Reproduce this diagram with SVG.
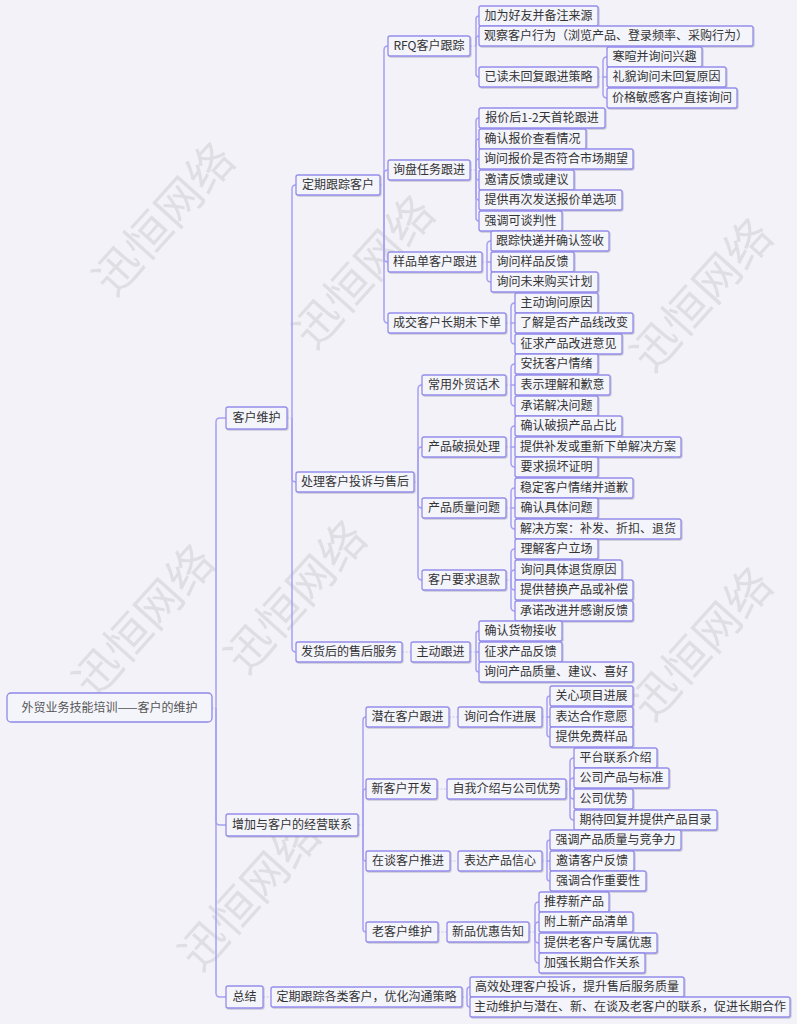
<svg xmlns="http://www.w3.org/2000/svg" width="797" height="1024" viewBox="0 0 797 1024">
<defs>
<filter id="sh" x="-5%" y="-20%" width="110%" height="150%">
<feDropShadow dx="1" dy="1" stdDeviation="0.6" flood-color="#7a7a90" flood-opacity="0.35"/>
</filter>
<style>
.bg{fill:#f2f2f8}
.n rect{fill:#f4f4fb;stroke:#958dec;stroke-width:1.3;filter:url(#sh)}
.n text{font-family:"Noto Sans CJK SC","Liberation Sans",sans-serif;font-size:12px;fill:#333;text-anchor:middle}
.root rect{fill:#f4f4fb;stroke:#8f88e8;stroke-width:1.3}
.root text{font-family:"Noto Sans CJK SC","Liberation Sans",sans-serif;font-size:12px;fill:#555;text-anchor:middle}
.c path{fill:none;stroke:#a7a1f2;stroke-width:1.5}
.c .d{stroke:#c9c6f1;stroke-width:1;stroke-dasharray:2 1.5}
.wm text{font-family:"Noto Sans CJK SC",sans-serif;font-size:46px;fill:#9a9a9a;opacity:0.22;text-anchor:middle}
</style>
</defs>
<rect class="bg" x="0" y="0" width="797" height="1024"/>

<g class="wm">
<text transform="translate(176,230) rotate(-48)">迅恒网络</text>
<text transform="translate(376,283) rotate(-48)">迅恒网络</text>
<text transform="translate(714,306) rotate(-48)">迅恒网络</text>
<text transform="translate(156,632) rotate(-48)">迅恒网络</text>
<text transform="translate(308,608) rotate(-48)">迅恒网络</text>
<text transform="translate(714,655) rotate(-48)">迅恒网络</text>
<text transform="translate(262,905) rotate(-48)">迅恒网络</text>
</g>

<g class="c" id="connectors">
<path class="d" d="M212,708H216"/>
<path d="M216,708V422Q216,418 220,418H226"/>
<path d="M216,708V821Q216,825 220,825H226"/>
<path d="M216,708V993Q216,997 220,997H226"/>

<path class="d" d="M287,418H292"/>
<path d="M292,418V189Q292,185 296,185"/>
<path d="M292,418V478Q292,482 296,482"/>
<path d="M292,418V648Q292,652 296,652"/>

<path class="d" d="M380,185H384"/>
<path d="M384,185V50Q384,46 388,46"/>
<path d="M384,185V174Q384,170 388,170"/>
<path d="M384,185V258Q384,262 388,262"/>
<path d="M384,185V319Q384,323 388,323"/>

<path class="d" d="M470,46H476"/>
<path d="M476,46V19Q476,16 479,16"/>
<path d="M476,46V39Q476,36 479,36"/>
<path d="M476,46V74Q476,77 479,77"/>

<path class="d" d="M598,77H603"/>
<path d="M603,77V61Q603,57 607,57"/>
<path d="M603,77H607"/>
<path d="M603,77V94Q603,98 607,98"/>

<path class="d" d="M470,170H476"/>
<path d="M476,170V121Q476,118 479,118"/>
<path d="M476,170V142Q476,139 479,139"/>
<path d="M476,170V162Q476,159 479,159"/>
<path d="M476,170V177Q476,180 479,180"/>
<path d="M476,170V197Q476,200 479,200"/>
<path d="M476,170V218Q476,221 479,221"/>

<path class="d" d="M482,262H487"/>
<path d="M487,262V245Q487,241 491,241"/>
<path d="M487,262H491"/>
<path d="M487,262V278Q487,282 491,282"/>

<path class="d" d="M506,323H511"/>
<path d="M511,323V307Q511,303 515,303"/>
<path d="M511,323H515"/>
<path d="M511,323V340Q511,344 515,344"/>

<path class="d" d="M414,482H418"/>
<path d="M418,482V389Q418,385 422,385"/>
<path d="M418,482V451Q418,447 422,447"/>
<path d="M418,482V504Q418,508 422,508"/>
<path d="M418,482V576Q418,580 422,580"/>

<path class="d" d="M506,385H511"/>
<path d="M511,385V368Q511,364 515,364"/>
<path d="M511,385H515"/>
<path d="M511,385V402Q511,406 515,406"/>

<path class="d" d="M506,447H511"/>
<path d="M511,447V430Q511,426 515,426"/>
<path d="M511,447H515"/>
<path d="M511,447V463Q511,467 515,467"/>

<path class="d" d="M506,508H511"/>
<path d="M511,508V492Q511,488 515,488"/>
<path d="M511,508H515"/>
<path d="M511,508V525Q511,529 515,529"/>

<path class="d" d="M506,580H511"/>
<path d="M511,580V553Q511,549 515,549"/>
<path d="M511,580V574Q511,570 515,570"/>
<path d="M511,580V586Q511,590 515,590"/>
<path d="M511,580V607Q511,611 515,611"/>

<path class="d" d="M402,652H411"/>
<path class="d" d="M470,652H476"/>
<path d="M476,652V634Q476,631 479,631"/>
<path d="M476,652H479"/>
<path d="M476,652V669Q476,672 479,672"/>

<path class="d" d="M358,825H363"/>
<path d="M363,825V720Q363,717 366,717"/>
<path d="M363,825V792Q363,789 366,789"/>
<path d="M363,825V858Q363,861 366,861"/>
<path d="M363,825V929Q363,932 366,932"/>

<path class="d" d="M449,717H458"/>
<path class="d" d="M542,717H547"/>
<path d="M547,717V699Q547,696 550,696"/>
<path d="M547,717H550"/>
<path d="M547,717V734Q547,737 550,737"/>

<path class="d" d="M437,789H447"/>
<path class="d" d="M566,789H570"/>
<path d="M570,789V762Q570,758 574,758"/>
<path d="M570,789V782Q570,778 574,778"/>
<path d="M570,789V795Q570,799 574,799"/>
<path d="M570,789V816Q570,820 574,820"/>

<path class="d" d="M450,861H458"/>
<path class="d" d="M542,861H547"/>
<path d="M547,861V843Q547,840 550,840"/>
<path d="M547,861H550"/>
<path d="M547,861V878Q547,881 550,881"/>

<path class="d" d="M438,932H447"/>
<path class="d" d="M529,932H535"/>
<path d="M535,932V906Q535,902 539,902"/>
<path d="M535,932V926Q535,922 539,922"/>
<path d="M535,932V939Q535,943 539,943"/>
<path d="M535,932V959Q535,963 539,963"/>

<path class="d" d="M263,997H271"/>
<path class="d" d="M462,997H467"/>
<path d="M467,997V990Q467,987 470,987"/>
<path d="M467,997V1004Q467,1007 470,1007"/>
</g>

<g class="root" id="root"><rect x="7" y="693" width="205" height="29" rx="4"/><text x="109.5" y="712">外贸业务技能培训——客户的维护</text></g>

<g class="n" id="n-khwh"><rect x="226" y="407" width="61" height="22" rx="2"/><text x="256.5" y="422">客户维护</text></g>
<g class="n" id="n-zjlx"><rect x="226" y="814" width="132" height="22" rx="2"/><text x="292" y="829">增加与客户的经营联系</text></g>
<g class="n" id="n-zj"><rect x="226" y="986" width="37" height="22" rx="2"/><text x="244.5" y="1001">总结</text></g>

<g class="n" id="n-dqgz"><rect x="296" y="175" width="84" height="20" rx="2"/><text x="338" y="189">定期跟踪客户</text></g>
<g class="n" id="n-clts"><rect x="296" y="472" width="118" height="20" rx="2"/><text x="355" y="486">处理客户投诉与售后</text></g>
<g class="n" id="n-fhsh"><rect x="296" y="642" width="106" height="20" rx="2"/><text x="349" y="656">发货后的售后服务</text></g>

<g class="n" id="n-rfq"><rect x="388" y="36" width="82" height="20" rx="2"/><text x="429" y="50">RFQ客户跟踪</text></g>
<g class="n" id="n-xp"><rect x="388" y="160" width="82" height="20" rx="2"/><text x="429" y="174">询盘任务跟进</text></g>
<g class="n" id="n-ypd"><rect x="388" y="252" width="94" height="20" rx="2"/><text x="435" y="266">样品单客户跟进</text></g>
<g class="n" id="n-cj"><rect x="388" y="313" width="118" height="20" rx="2"/><text x="447" y="327">成交客户长期未下单</text></g>

<g class="n" id="n-rfq1"><rect x="479" y="6" width="119" height="20" rx="2"/><text x="538.5" y="20">加为好友并备注来源</text></g>
<g class="n" id="n-rfq2"><rect x="479" y="26" width="274" height="20" rx="2"/><text x="616" y="40">观察客户行为（浏览产品、登录频率、采购行为）</text></g>
<g class="n" id="n-rfq3"><rect x="479" y="67" width="119" height="20" rx="2"/><text x="538.5" y="81">已读未回复跟进策略</text></g>
<g class="n" id="n-yd1"><rect x="607" y="47" width="95" height="20" rx="2"/><text x="654.5" y="61">寒暄并询问兴趣</text></g>
<g class="n" id="n-yd2"><rect x="607" y="67" width="119" height="20" rx="2"/><text x="666.5" y="81">礼貌询问未回复原因</text></g>
<g class="n" id="n-yd3"><rect x="607" y="88" width="130" height="20" rx="2"/><text x="672" y="102">价格敏感客户直接询问</text></g>

<g class="n" id="n-xp1"><rect x="479" y="108" width="126" height="20" rx="2"/><text x="542" y="122">报价后1-2天首轮跟进</text></g>
<g class="n" id="n-xp2"><rect x="479" y="129" width="107" height="20" rx="2"/><text x="532.5" y="143">确认报价查看情况</text></g>
<g class="n" id="n-xp3"><rect x="479" y="149" width="154" height="20" rx="2"/><text x="556" y="163">询问报价是否符合市场期望</text></g>
<g class="n" id="n-xp4"><rect x="479" y="170" width="95" height="20" rx="2"/><text x="526.5" y="184">邀请反馈或建议</text></g>
<g class="n" id="n-xp5"><rect x="479" y="190" width="143" height="20" rx="2"/><text x="550.5" y="204">提供再次发送报价单选项</text></g>
<g class="n" id="n-xp6"><rect x="479" y="211" width="83" height="20" rx="2"/><text x="520.5" y="225">强调可谈判性</text></g>

<g class="n" id="n-yp1"><rect x="491" y="231" width="118" height="20" rx="2"/><text x="550" y="245">跟踪快递并确认签收</text></g>
<g class="n" id="n-yp2"><rect x="491" y="252" width="83" height="20" rx="2"/><text x="532.5" y="266">询问样品反馈</text></g>
<g class="n" id="n-yp3"><rect x="491" y="272" width="107" height="20" rx="2"/><text x="544.5" y="286">询问未来购买计划</text></g>

<g class="n" id="n-cj1"><rect x="515" y="293" width="83" height="20" rx="2"/><text x="556.5" y="307">主动询问原因</text></g>
<g class="n" id="n-cj2"><rect x="515" y="313" width="118" height="20" rx="2"/><text x="574" y="327">了解是否产品线改变</text></g>
<g class="n" id="n-cj3"><rect x="515" y="334" width="107" height="20" rx="2"/><text x="568.5" y="348">征求产品改进意见</text></g>

<g class="n" id="n-cy"><rect x="422" y="375" width="84" height="20" rx="2"/><text x="464" y="389">常用外贸话术</text></g>
<g class="n" id="n-ps"><rect x="422" y="437" width="84" height="20" rx="2"/><text x="464" y="451">产品破损处理</text></g>
<g class="n" id="n-zl"><rect x="422" y="498" width="84" height="20" rx="2"/><text x="464" y="512">产品质量问题</text></g>
<g class="n" id="n-tk"><rect x="422" y="570" width="84" height="20" rx="2"/><text x="464" y="584">客户要求退款</text></g>

<g class="n" id="n-cy1"><rect x="515" y="354" width="83" height="20" rx="2"/><text x="556.5" y="368">安抚客户情绪</text></g>
<g class="n" id="n-cy2"><rect x="515" y="375" width="95" height="20" rx="2"/><text x="562.5" y="389">表示理解和歉意</text></g>
<g class="n" id="n-cy3"><rect x="515" y="396" width="83" height="20" rx="2"/><text x="556.5" y="410">承诺解决问题</text></g>
<g class="n" id="n-ps1"><rect x="515" y="416" width="107" height="20" rx="2"/><text x="568.5" y="430">确认破损产品占比</text></g>
<g class="n" id="n-ps2"><rect x="515" y="437" width="166" height="20" rx="2"/><text x="598" y="451">提供补发或重新下单解决方案</text></g>
<g class="n" id="n-ps3"><rect x="515" y="457" width="83" height="20" rx="2"/><text x="556.5" y="471">要求损坏证明</text></g>
<g class="n" id="n-zl1"><rect x="515" y="478" width="118" height="20" rx="2"/><text x="574" y="492">稳定客户情绪并道歉</text></g>
<g class="n" id="n-zl2"><rect x="515" y="498" width="83" height="20" rx="2"/><text x="556.5" y="512">确认具体问题</text></g>
<g class="n" id="n-zl3"><rect x="515" y="519" width="166" height="20" rx="2"/><text x="598" y="533">解决方案：补发、折扣、退货</text></g>
<g class="n" id="n-tk1"><rect x="515" y="539" width="83" height="20" rx="2"/><text x="556.5" y="553">理解客户立场</text></g>
<g class="n" id="n-tk2"><rect x="515" y="560" width="107" height="20" rx="2"/><text x="568.5" y="574">询问具体退货原因</text></g>
<g class="n" id="n-tk3"><rect x="515" y="580" width="118" height="20" rx="2"/><text x="574" y="594">提供替换产品或补偿</text></g>
<g class="n" id="n-tk4"><rect x="515" y="601" width="118" height="20" rx="2"/><text x="574" y="615">承诺改进并感谢反馈</text></g>

<g class="n" id="n-zdgj"><rect x="411" y="642" width="59" height="20" rx="2"/><text x="440.5" y="656">主动跟进</text></g>
<g class="n" id="n-zd1"><rect x="479" y="621" width="83" height="20" rx="2"/><text x="520.5" y="635">确认货物接收</text></g>
<g class="n" id="n-zd2"><rect x="479" y="642" width="83" height="20" rx="2"/><text x="520.5" y="656">征求产品反馈</text></g>
<g class="n" id="n-zd3"><rect x="479" y="662" width="154" height="20" rx="2"/><text x="556" y="676">询问产品质量、建议、喜好</text></g>

<g class="n" id="n-qz"><rect x="366" y="707" width="83" height="20" rx="2"/><text x="407.5" y="721">潜在客户跟进</text></g>
<g class="n" id="n-xkh"><rect x="366" y="779" width="71" height="20" rx="2"/><text x="401.5" y="793">新客户开发</text></g>
<g class="n" id="n-zt"><rect x="366" y="851" width="84" height="20" rx="2"/><text x="408" y="865">在谈客户推进</text></g>
<g class="n" id="n-lkh"><rect x="366" y="922" width="72" height="20" rx="2"/><text x="402" y="936">老客户维护</text></g>

<g class="n" id="n-xwhz"><rect x="458" y="707" width="84" height="20" rx="2"/><text x="500" y="721">询问合作进展</text></g>
<g class="n" id="n-qz1"><rect x="550" y="686" width="83" height="20" rx="2"/><text x="591.5" y="700">关心项目进展</text></g>
<g class="n" id="n-qz2"><rect x="550" y="707" width="83" height="20" rx="2"/><text x="591.5" y="721">表达合作意愿</text></g>
<g class="n" id="n-qz3"><rect x="550" y="727" width="83" height="20" rx="2"/><text x="591.5" y="741">提供免费样品</text></g>

<g class="n" id="n-zwjs"><rect x="447" y="779" width="119" height="20" rx="2"/><text x="506.5" y="793">自我介绍与公司优势</text></g>
<g class="n" id="n-xk1"><rect x="574" y="748" width="83" height="20" rx="2"/><text x="615.5" y="762">平台联系介绍</text></g>
<g class="n" id="n-xk2"><rect x="574" y="768" width="95" height="20" rx="2"/><text x="621.5" y="782">公司产品与标准</text></g>
<g class="n" id="n-xk3"><rect x="574" y="789" width="59" height="20" rx="2"/><text x="603.5" y="803">公司优势</text></g>
<g class="n" id="n-xk4"><rect x="574" y="810" width="143" height="20" rx="2"/><text x="645.5" y="824">期待回复并提供产品目录</text></g>

<g class="n" id="n-bdxx"><rect x="458" y="851" width="84" height="20" rx="2"/><text x="500" y="865">表达产品信心</text></g>
<g class="n" id="n-zt1"><rect x="550" y="830" width="131" height="20" rx="2"/><text x="615.5" y="844">强调产品质量与竞争力</text></g>
<g class="n" id="n-zt2"><rect x="550" y="851" width="84" height="20" rx="2"/><text x="592" y="865">邀请客户反馈</text></g>
<g class="n" id="n-zt3"><rect x="550" y="871" width="96" height="20" rx="2"/><text x="598" y="885">强调合作重要性</text></g>

<g class="n" id="n-xpyh"><rect x="447" y="922" width="82" height="20" rx="2"/><text x="488" y="936">新品优惠告知</text></g>
<g class="n" id="n-lk1"><rect x="539" y="892" width="70" height="20" rx="2"/><text x="574" y="906">推荐新产品</text></g>
<g class="n" id="n-lk2"><rect x="539" y="912" width="94" height="20" rx="2"/><text x="586" y="926">附上新产品清单</text></g>
<g class="n" id="n-lk3"><rect x="539" y="933" width="118" height="20" rx="2"/><text x="598" y="947">提供老客户专属优惠</text></g>
<g class="n" id="n-lk4"><rect x="539" y="953" width="106" height="20" rx="2"/><text x="592" y="967">加强长期合作关系</text></g>

<g class="n" id="n-zj1"><rect x="271" y="987" width="191" height="20" rx="2"/><text x="366.5" y="1001">定期跟踪各类客户，优化沟通策略</text></g>
<g class="n" id="n-zj2"><rect x="470" y="977" width="214" height="20" rx="2"/><text x="577" y="991">高效处理客户投诉，提升售后服务质量</text></g>
<g class="n" id="n-zj3"><rect x="470" y="997" width="320" height="20" rx="2"/><text x="630" y="1011">主动维护与潜在、新、在谈及老客户的联系，促进长期合作</text></g>
</svg>
